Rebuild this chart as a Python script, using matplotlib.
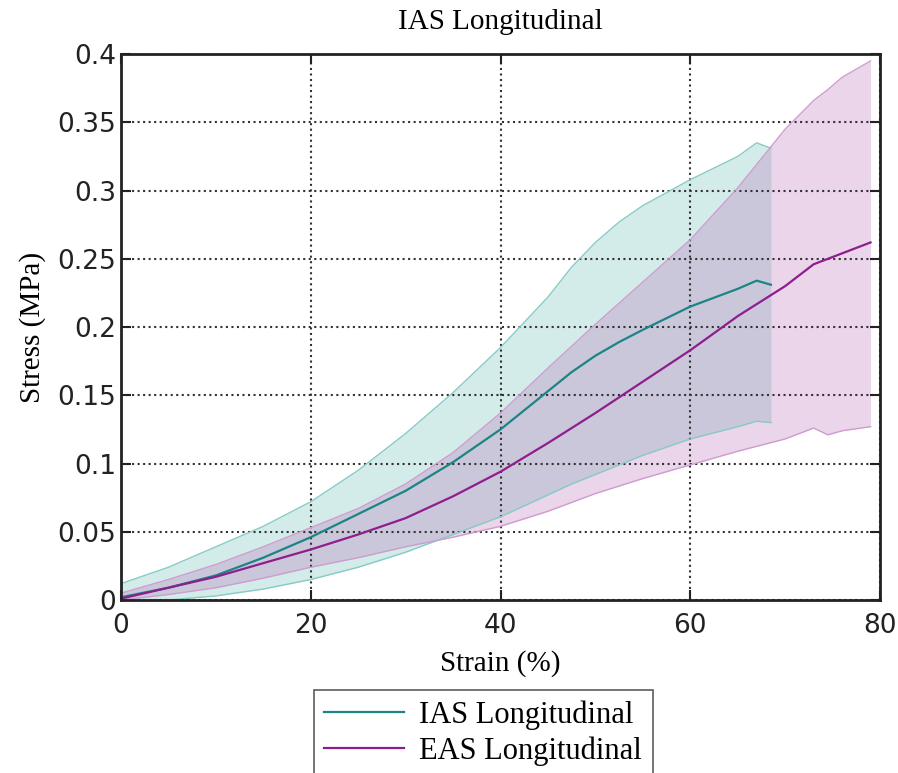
import matplotlib.pyplot as plt

# IAS longitudinal (mean and band)
ias_strain = [0, 5, 10, 15, 20, 25, 30, 35, 40, 45, 47.5, 50, 52.5, 55, 60, 65, 67, 68.5]
ias_mean = [0.002, 0.009, 0.018, 0.031, 0.046, 0.063, 0.080, 0.101, 0.125,
            0.153, 0.167, 0.179, 0.189, 0.198, 0.215, 0.228, 0.234, 0.231]
ias_upper = [0.012, 0.024, 0.039, 0.054, 0.072, 0.095, 0.122, 0.152, 0.185,
             0.222, 0.244, 0.262, 0.277, 0.289, 0.308, 0.325, 0.335, 0.331]
ias_lower = [0.0, 0.0, 0.003, 0.008, 0.015, 0.024, 0.035, 0.048, 0.061,
             0.077, 0.085, 0.092, 0.099, 0.106, 0.118, 0.127, 0.131, 0.130]

# EAS longitudinal
eas_strain = [0, 5, 10, 15, 20, 25, 30, 35, 40, 45, 50, 55, 60, 65, 70,
              73, 74.5, 76, 79]
eas_mean = [0.001, 0.009, 0.017, 0.027, 0.037, 0.048, 0.060, 0.076, 0.094,
            0.115, 0.137, 0.160, 0.183, 0.208, 0.230, 0.246, 0.250, 0.254, 0.262]
eas_upper = [0.005, 0.015, 0.026, 0.039, 0.053, 0.067, 0.085, 0.108, 0.137,
             0.170, 0.202, 0.233, 0.264, 0.302, 0.345, 0.366, 0.374, 0.383, 0.395]
eas_lower = [0.0, 0.004, 0.009, 0.016, 0.024, 0.031, 0.039, 0.046, 0.054,
             0.065, 0.078, 0.089, 0.099, 0.109, 0.118, 0.126, 0.121, 0.124, 0.127]

teal = '#1b8585'
purple = '#8e1e8e'

fig = plt.figure(figsize=(8.98, 7.73), dpi=100)
ax = fig.add_axes([0.1347, 0.2238, 0.8453, 0.7062])

ax.fill_between(ias_strain, ias_lower, ias_upper, color='#6fbfb8', alpha=0.3, lw=0)
ax.plot(ias_strain, ias_upper, color='#86cbc6', lw=1)
ax.plot(ias_strain, ias_lower, color='#86cbc6', lw=1)
ax.fill_between(eas_strain, eas_lower, eas_upper, color='#b56ab5', alpha=0.28, lw=0)
ax.plot(eas_strain, eas_upper, color='#cf9ccf', lw=1)
ax.plot(eas_strain, eas_lower, color='#cf9ccf', lw=1)

ax.plot(ias_strain, ias_mean, color=teal, lw=1.6, label='IAS Longitudinal')
ax.plot(eas_strain, eas_mean, color=purple, lw=1.6, label='EAS Longitudinal')

ax.set_xlim(0, 80)
ax.set_ylim(0, 0.4)
ax.set_xticks([0, 20, 40, 60, 80])
ax.set_yticks([0, 0.05, 0.1, 0.15, 0.2, 0.25, 0.3, 0.35, 0.4])
ax.set_yticklabels(['0', '0.05', '0.1', '0.15', '0.2', '0.25', '0.3', '0.35', '0.4'])
ax.tick_params(direction='in', length=7, width=1.5, top=True, right=True,
               labelsize=19, colors='#222222')
ax.tick_params(axis='x', pad=9)
ax.grid(True, linestyle=':', color='#333333', linewidth=1.5)
for s in ax.spines.values():
    s.set_linewidth(2)
    s.set_color('#222222')

serif = 'Liberation Serif'
ax.set_title('IAS Longitudinal', fontsize=21, family=serif, pad=18)
ax.set_xlabel('Strain (%)', fontsize=21, family=serif, labelpad=8)
ax.set_ylabel('Stress (MPa)', fontsize=21, family=serif, labelpad=8)

leg = fig.legend(loc='upper center', bbox_to_anchor=(0.538, 0.108),
                 prop={'family': serif, 'size': 22}, frameon=True, fancybox=False,
                 edgecolor='#333333', handlelength=2.6, borderpad=0.35,
                 labelspacing=0.22, handletextpad=0.5, borderaxespad=0)
leg.get_frame().set_linewidth(1.2)

fig.savefig('out.png', dpi=100)
